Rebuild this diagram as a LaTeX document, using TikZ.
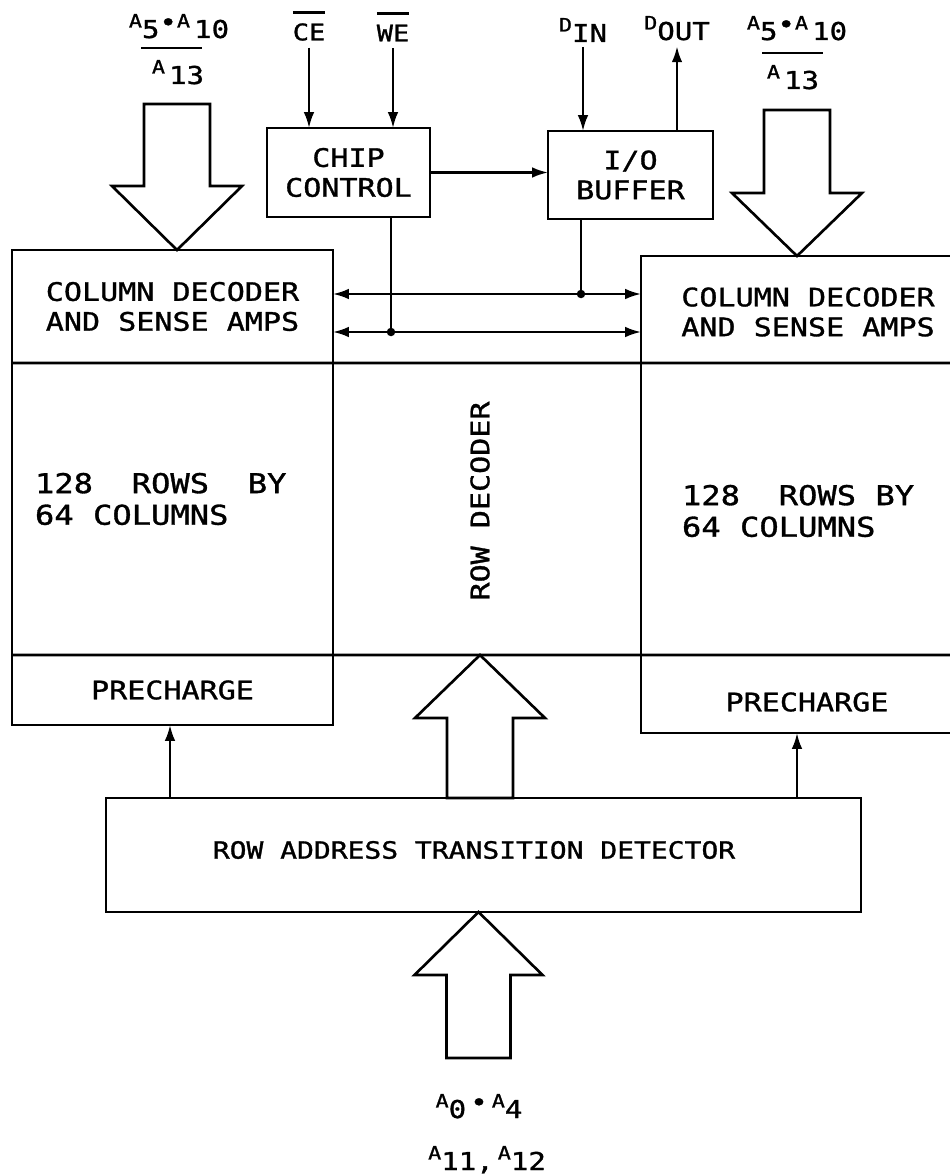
\documentclass[tikz,border=0pt]{standalone}
\usepackage{fontspec}
\setmainfont{DejaVu Sans}
\newfontfamily\plotfont[FakeStretch=1.18,FakeBold=1.2]{DejaVu Sans Mono}
\usetikzlibrary{arrows.meta}
\newcommand\Asub[2]{\raisebox{6pt}{\fontsize{10.5}{10}\selectfont #1}#2}
\newcommand\Bul{\raisebox{4pt}{\fontsize{14}{14}\selectfont •}}
\tikzset{
  ln/.style={line width=1.5pt},
  blk/.style={draw, line width=1.5pt, align=center},
  arr/.style={line width=1.3pt, -{Latex[length=9pt,width=6pt]}},
  arrboth/.style={line width=1.3pt, {Latex[length=9pt,width=6pt]}-{Latex[length=9pt,width=6pt]}},
  hollow/.style={draw, line width=1.5pt, line join=miter},
  dot/.style={circle, fill, inner sep=0pt, minimum size=0.17cm},
  lbl/.style={font=\plotfont\fontsize{14}{17}\selectfont},
  big/.style={font=\plotfont\fontsize{15.5}{18}\selectfont, align=left, anchor=west},
}
\begin{document}
\begin{tikzpicture}[x=0.02cm,y=-0.02cm,
  every node/.style={font=\plotfont\fontsize{14.5}{17}\selectfont, inner sep=0pt, outer sep=0pt}]
\useasboundingbox[fill=white] (0,0) rectangle (950,1176);

% left block
\node[blk, minimum width=6.42cm, minimum height=2.26cm] (lcd) at (172.5,306.5) {COLUMN DECODER\\AND SENSE AMPS};
\node[blk, minimum width=6.42cm, minimum height=5.84cm] (larr) at (172.5,509) {};
\node[blk, minimum width=6.42cm, minimum height=1.4cm] (lpre) at (172.5,690) {PRECHARGE};
\node[big] (ltx) at (35,499) {128~~ROWS~~BY\\64~COLUMNS};

% right block (open on the right)
\node[minimum width=6.18cm, minimum height=2.14cm] (rcd) at (795.5,309.5) {};
\node[minimum width=6.18cm, minimum height=5.84cm] (rarr) at (795.5,509) {};
\node[minimum width=6.18cm, minimum height=1.56cm] (rpre) at (795.5,694) {};
\draw[ln] (rcd.north east) -- (rcd.north west) -- (rpre.south west) -- (rpre.south east);
\draw[ln] (lcd.south west) -- (rcd.south east);
\draw[ln] (lpre.north west) -- (rpre.north east);
\node[align=center] (rcdt) at (808,312) {COLUMN DECODER\\AND SENSE AMPS};
\node[big] (rtx) at (682,511) {128~~ROWS~BY\\64~COLUMNS};
\node (rpt) at (807,702) {PRECHARGE};

% row decoder
\node[rotate=90] (rd) at (480,501) {ROW DECODER};

% chip control and I/O buffer
\node[blk, minimum width=3.26cm, minimum height=1.78cm] (cc) at (348.5,172.5) {CHIP\\CONTROL};
\node[blk, minimum width=3.3cm, minimum height=1.76cm] (iob) at (630.5,175) {I/O\\BUFFER};

% row address transition detector
\node[blk, minimum width=15.1cm, minimum height=2.28cm] (ratd) at (483.5,855) {};
\node[font=\plotfont\fontsize{13.5}{16}\selectfont] (ratdt) at (474,850) {ROW ADDRESS TRANSITION DETECTOR};

% top labels
\node[font=\plotfont\fontsize{13}{14}\selectfont] (ce) at (309,32) {CE};
\node[font=\plotfont\fontsize{13}{14}\selectfont] (we) at (393,33) {WE};
\draw[ln] ([yshift=0.22cm]ce.north west) -- ([yshift=0.22cm]ce.north east);
\draw[ln] ([yshift=0.22cm]we.north west) -- ([yshift=0.22cm]we.north east);
\node[lbl, anchor=base] (din) at (583,42) {\Asub{D}{IN}};
\node[lbl, anchor=base] (dout) at (677,40) {\Asub{D}{OUT}};

\node[lbl, anchor=base] (la1) at (179,38) {\Asub{A}{5}\Bul\Asub{A}{\,10}};
\node[lbl, anchor=base] (la2) at (178,84) {\Asub{A}{\,13}};
\draw[ln] (141,48) -- (202,48);
\node[lbl, anchor=base] (ra1) at (797,40) {\Asub{A}{5}\Bul\Asub{A}{\,10}};
\node[lbl, anchor=base] (ra2) at (793,89) {\Asub{A}{\,13}};
\draw[ln] (762,53) -- (823,53);

% bottom labels
\node[lbl, anchor=base] (ba1) at (479,1118) {\Asub{A}{0}\,\Bul\,\Asub{A}{4}};
\node[lbl, anchor=base] (ba2) at (487,1170) {\Asub{A}{11},\,\Asub{A}{12}};

% control arrows
\draw[arr] ([yshift=-0.14cm]ce.south) -- (ce |- cc.north);
\draw[arr] ([yshift=-0.14cm]we.south) -- (we |- cc.north);
\draw[arr] ([yshift=-0.1cm]din.south) -- (din |- iob.north);
\draw[arr] (iob.north -| dout) -- ([yshift=-0.12cm]dout.south);
\draw[arr] (cc.east) -- (cc.east -| iob.west);

% bus
\coordinate (j1) at (581,294);
\coordinate (j2) at (391,332);
\draw[line width=1.3pt] (iob.south -| j1) -- (j1);
\draw[line width=1.3pt] (cc.south -| j2) -- (j2);
\draw[arrboth] (lcd.east |- j1) -- (rcd.west |- j1);
\draw[arrboth] (lcd.east |- j2) -- (rcd.west |- j2);
\node[dot] (d1) at (j1) {};
\node[dot] (d2) at (j2) {};

% precharge arrows
\coordinate (pl) at (170,0);
\coordinate (pr) at (797,0);
\draw[arr] (ratd.north -| pl) -- (lpre.south -| pl);
\draw[arr] (ratd.north -| pr) -- (rpre.south -| pr);

% big hollow arrows
\draw[hollow] ([xshift=0.09cm]lcd.north) -- ++(-65,-64) -- ++(32,0) -- ++(0,-82) -- ++(66,0) -- ++(0,82) -- ++(32,0) -- cycle;
\draw[hollow] ([xshift=0.03cm]rcd.north) -- ++(-65,-63) -- ++(32,0) -- ++(0,-83) -- ++(66,0) -- ++(0,83) -- ++(32,0) -- cycle;
\draw[hollow] (rd |- lpre.north) -- ++(-65,63) -- ++(32,0) -- ++(0,80) -- ++(66,0) -- ++(0,-80) -- ++(32,0) -- cycle;
\draw[hollow] ([xshift=-0.1cm]ratd.south) -- ++(-64,63) -- ++(32,0) -- ++(0,83) -- ++(64,0) -- ++(0,-83) -- ++(32,0) -- cycle;
\end{tikzpicture}
\end{document}
